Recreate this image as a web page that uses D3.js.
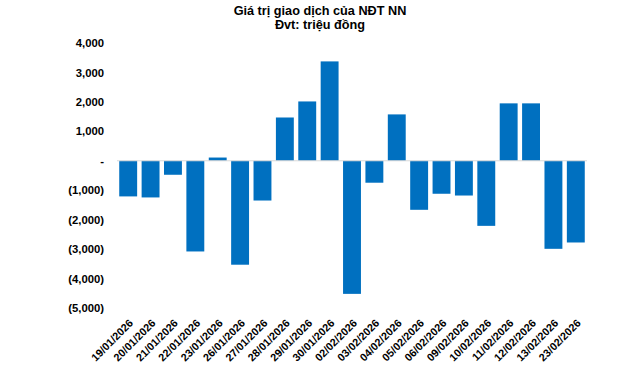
<!DOCTYPE html>
<html><head><meta charset="utf-8">
<script src="https://cdn.jsdelivr.net/npm/d3@7/dist/d3.min.js"></script>
<style>body{margin:0;background:#fff}svg{display:block}text{font-family:"Liberation Sans",Arial,sans-serif}</style>
</head><body>
<svg id="c" width="640" height="370"></svg>
<script>
const categories = ["19/01/2026","20/01/2026","21/01/2026","22/01/2026","23/01/2026","26/01/2026","27/01/2026","28/01/2026","29/01/2026","30/01/2026","02/02/2026","03/02/2026","04/02/2026","05/02/2026","06/02/2026","09/02/2026","10/02/2026","11/02/2026","12/02/2026","13/02/2026","23/02/2026"];
const values = [-1210,-1245,-475,-3080,110,-3530,-1350,1470,2015,3375,-4520,-745,1575,-1665,-1120,-1180,-2210,1950,1950,-2990,-2775];
const tickValues = [4000,3000,2000,1000,0,-1000,-2000,-3000,-4000,-5000];
const tickLabels = ["4,000","3,000","2,000","1,000","-","(1,000)","(2,000)","(3,000)","(4,000)","(5,000)"];
const titleLines = ["Giá trị giao dịch của NĐT NN","Đvt: triệu đồng"];

const svg = d3.select("#c");
const x = d3.scaleBand().domain(categories).range([117,587]).paddingInner(0.2).paddingOuter(0.1);
const y = d3.scaleLinear().domain([-5000,4000]).range([308,43]);

svg.selectAll("text.title").data(titleLines).enter().append("text")
  .attr("x",320).attr("y",(d,i)=>15+i*14).attr("text-anchor","middle")
  .attr("font-size",12.7).attr("font-weight","bold").attr("fill","#000").text(d=>d);

const yAxis = d3.axisLeft(y).tickValues(tickValues).tickFormat((d,i)=>tickLabels[i]).tickSize(0).tickPadding(0);
const gy = svg.append("g").attr("transform","translate(104,0)").call(yAxis);
gy.select(".domain").remove();
gy.selectAll("text").attr("font-size",11.3).attr("font-weight","bold").attr("fill","#000");

svg.selectAll("rect.bar").data(values).enter().append("rect")
  .attr("x",(d,i)=>x(categories[i])).attr("width",x.bandwidth())
  .attr("y",d=>y(Math.max(0,d))).attr("height",d=>Math.abs(y(d)-y(0)))
  .attr("fill","#0070c0");

svg.append("line").attr("x1",117).attr("x2",587).attr("y1",y(0)).attr("y2",y(0))
  .attr("stroke","#d9d9d9").attr("stroke-width",1);

const xAxis = d3.axisBottom(x).tickSize(0).tickPadding(0);
const gx = svg.append("g").attr("transform","translate(0,314)").call(xAxis);
gx.select(".domain").remove();
gx.selectAll("text").attr("font-size",10.8).attr("font-weight","bold").attr("fill","#000")
  .attr("text-anchor","end").attr("dy","0.35em")
  .attr("transform","translate(3,7) rotate(-45)");
</script>
</body></html>
